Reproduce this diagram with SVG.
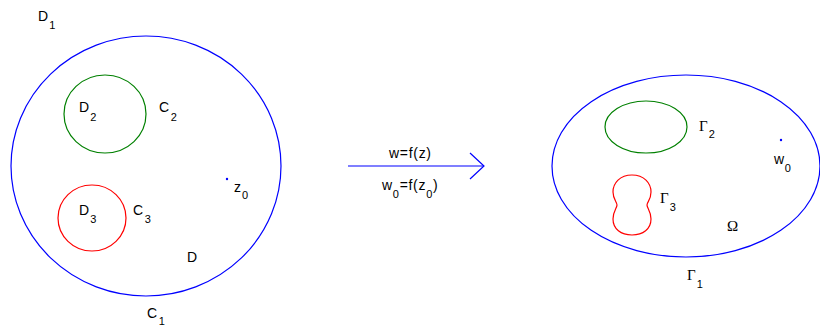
<svg xmlns="http://www.w3.org/2000/svg" width="820" height="327" viewBox="0 0 820 327">
<style>
.t{font-family:"Liberation Sans",Arial,sans-serif;font-size:14px;fill:#000}
.a{font-family:"Liberation Sans",Arial,sans-serif;font-size:14px;fill:#000;letter-spacing:0.7px}
.g{font-family:"Liberation Serif","Times New Roman",serif;font-size:15px;fill:#000}
.s{font-family:"Liberation Sans",Arial,sans-serif;font-size:11px}
.b{fill:none;stroke:#0000ff;stroke-width:1.2}
.gr{fill:none;stroke:#008000;stroke-width:1.2}
.r{fill:none;stroke:#ff0000;stroke-width:1.2}
</style>
<rect width="820" height="327" fill="#fff"/>
<g id="left-domain">
<ellipse id="C1" class="b" cx="146" cy="166" rx="135" ry="130"/>
<ellipse id="C2" class="gr" cx="105" cy="114" rx="41" ry="39"/>
<ellipse id="C3" class="r" cx="92" cy="218" rx="34" ry="33"/>
<circle id="z0dot" cx="227" cy="179" r="1.2" fill="#0000ff"/>
<text class="t" x="38" y="21">D<tspan class="s" dx="1" dy="8">1</tspan></text>
<text class="t" x="79" y="112">D<tspan class="s" dx="1" dy="9">2</tspan></text>
<text class="t" x="159" y="112">C<tspan class="s" dx="1.5" dy="9">2</tspan></text>
<text class="t" x="234" y="192">z<tspan class="s" dx="1" dy="7">0</tspan></text>
<text class="t" x="79" y="215">D<tspan class="s" dx="1" dy="8">3</tspan></text>
<text class="t" x="133" y="215">C<tspan class="s" dx="1.5" dy="8">3</tspan></text>
<text class="t" x="187" y="262">D</text>
<text class="t" x="147" y="318">C<tspan class="s" dx="1.5" dy="7">1</tspan></text>
</g>
<g id="connectors">
<line class="b" x1="348" y1="166" x2="484" y2="166"/>
<polyline class="b" points="470,153 484,166 470,179"/>
<text class="a" x="389" y="158">w=f(z)</text>
<text class="a" x="382" y="190">w<tspan class="s" dy="8">0</tspan><tspan dy="-8">=f(z</tspan><tspan class="s" dy="8">0</tspan><tspan dy="-8">)</tspan></text>
</g>
<g id="right-domain">
<ellipse id="G1" class="b" cx="686" cy="166" rx="134" ry="91"/>
<ellipse id="G2" class="gr" cx="646" cy="127" rx="41" ry="26"/>
<path id="G3" class="r" d="M632,175 C644,175 651,183 651,192 C651,200 647,202 647,205 C647,208 651,211 651,219 C651,229 643,235 632,235 C621,235 613,229 613,219 C613,211 617,208 617,205 C617,202 613,199 613,192 C613,183 620,175 632,175 Z"/>
<circle id="w0dot" cx="781" cy="140" r="1.2" fill="#0000ff"/>
<text class="g" x="699" y="131">Γ<tspan class="s" dx="1" dy="7">2</tspan></text>
<text class="t" x="774" y="164">w<tspan class="s" dx="0.5" dy="8">0</tspan></text>
<text class="g" x="660" y="203">Γ<tspan class="s" dx="1" dy="8">3</tspan></text>
<text class="g" x="727" y="231">Ω</text>
<text class="g" x="687" y="280">Γ<tspan class="s" dx="1" dy="8">1</tspan></text>
</g>
</svg>
